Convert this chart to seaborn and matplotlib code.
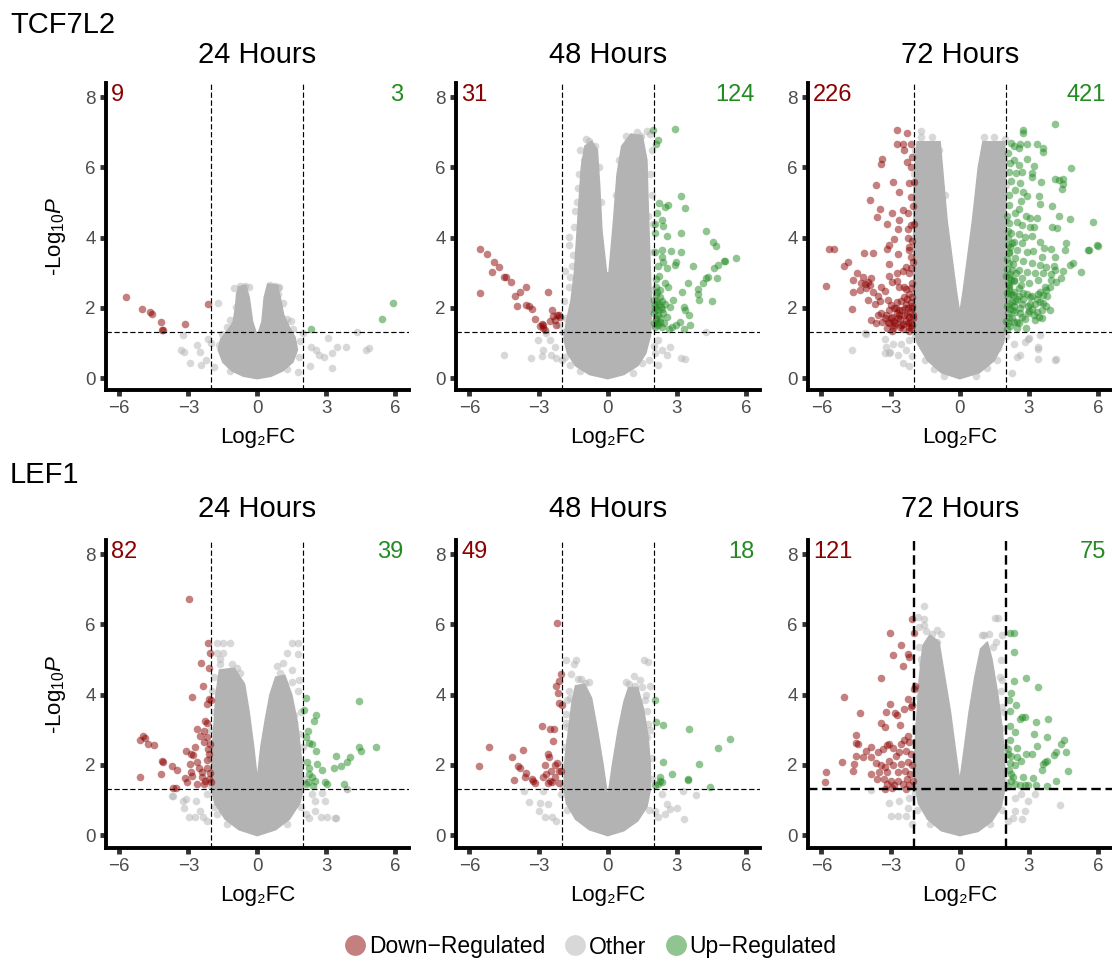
import matplotlib
matplotlib.use('Agg')
import matplotlib.pyplot as plt
import seaborn as sns
import pandas as pd
from matplotlib.lines import Line2D
from matplotlib.colors import to_rgba

sns.set_style('white')
plt.rcParams['font.family'] = ['Liberation Sans', 'DejaVu Sans']
plt.rcParams['mathtext.fontset'] = 'custom'
plt.rcParams['mathtext.rm'] = 'Liberation Sans'
plt.rcParams['mathtext.it'] = 'Liberation Sans:italic'
plt.rcParams['text.color'] = 'black'
plt.rcParams['axes.labelcolor'] = 'black'

# ---------------- data ----------------
genes = ['TCF7L2', 'LEF1']
times = ['24 Hours', '48 Hours', '72 Hours']
down_counts = [[9, 31, 226], [82, 49, 121]]
up_counts = [[3, 124, 421], [39, 18, 75]]
fc_cut = 2.0
p_cut = 1.3
x_ticks = [-6, -3, 0, 3, 6]
y_ticks = [0, 2, 4, 6, 8]
legend_labels = ['Down\u2212Regulated', 'Other', 'Up\u2212Regulated']

# TCF7L2 24h
T24_down = [(-5.70, 2.32), (-5.02, 1.97), (-4.65, 1.89), (-4.56, 1.81), (-4.19, 1.59),
            (-4.16, 1.37), (-4.10, 1.37), (-3.15, 1.54), (-2.15, 2.11)]
T24_up = [(2.35, 1.39), (5.42, 1.67), (5.92, 2.13)]
T24_other = [(-1.7, 2.13), (-1.19, 1.65), (-0.94, 2.03), (-3.23, 1.22), (-3.3, 0.8), (-3.2, 0.75),
             (-2.92, 0.42), (-2.48, 0.75), (-2.23, 0.51), (-2.45, 0.37), (-2.0, 0.99), (-2.15, 1.1),
             (-2.6, 0.95), (-1.87, 0.32), (1.99, 1.27), (2.35, 0.89), (2.57, 0.8), (2.67, 0.66),
             (3.06, 1.13), (3.27, 0.72), (3.27, 0.28), (3.48, 0.89), (3.84, 0.89), (2.3, 0.34),
             (2.9, 0.6), (1.75, 0.16), (1.56, 1.41), (1.3, 1.68), (1.13, 2.13), (0.9, 2.38),
             (4.35, 1.32), (4.71, 0.8), (4.85, 0.85), (-0.75, 2.62), (-0.55, 2.62), (-0.35, 2.6),
             (0.55, 2.65), (0.75, 2.62), (0.95, 2.6), (-1.3, 1.45), (1.45, 1.62), (-1.55, 1.25),
             (1.85, 1.05), (-1.2, 0.2), (1.3, 0.25), (-1.65, 0.95), (1.8, 0.6), (-1.0, 2.55),
             (0.9, 2.55)]
T24_core = [(0, -0.02), (-0.6, 0.05), (-1.1, 0.2), (-1.5, 0.45), (-1.7, 0.8), (-1.6, 1.1),
            (-1.3, 1.35), (-1.05, 1.6), (-0.95, 2.0), (-0.9, 2.4), (-0.8, 2.6), (-0.5, 2.65),
            (-0.35, 2.3), (-0.2, 1.6), (0.0, 1.2), (0.2, 1.6), (0.3, 2.3), (0.45, 2.68),
            (0.85, 2.65), (1.0, 2.3), (1.15, 1.8), (1.4, 1.45), (1.65, 1.15), (1.75, 0.8),
            (1.55, 0.45), (1.1, 0.2), (0.6, 0.05)]

# TCF7L2 48h
T48_down = [(-5.54, 3.67), (-5.22, 3.52), (-4.94, 3.30), (-4.71, 3.17), (-5.04, 3.01), (-4.49, 2.89),
            (-4.43, 2.87), (-4.21, 2.74), (-5.52, 2.41), (-4.01, 2.35), (-3.82, 2.44), (-3.56, 2.58),
            (-3.95, 2.05), (-3.53, 2.08), (-3.42, 2.05), (-3.29, 1.96), (-2.60, 2.46), (-3.15, 1.67),
            (-2.85, 1.54), (-2.79, 1.43), (-2.82, 1.50), (-2.40, 1.94), (-2.38, 1.77), (-2.20, 1.79),
            (-2.13, 1.79), (-2.25, 1.51), (-2.93, 1.47), (-2.72, 1.38), (-2.27, 1.66), (-2.52, 1.62),
            (-2.08, 1.75)]
T48_up = [(1.97, 7.07), (2.93, 7.08), (2.19, 6.78), (2.07, 6.66), (2.22, 4.99), (2.62, 4.93),
          (2.48, 4.88), (3.16, 5.17), (3.36, 4.85), (2.33, 4.50), (2.05, 4.39), (2.41, 4.32),
          (2.05, 4.12), (2.55, 4.05), (3.16, 4.12), (4.25, 4.19), (4.55, 3.87), (4.70, 3.76),
          (5.55, 3.42), (5.03, 3.34), (4.62, 3.12), (4.77, 3.22), (4.73, 2.84), (4.27, 2.84),
          (4.33, 2.89), (4.12, 2.70), (3.93, 2.53), (3.90, 2.39), (3.94, 2.21), (4.52, 2.20),
          (3.68, 3.18), (3.47, 2.70), (3.21, 2.46), (3.16, 3.58), (2.73, 3.61), (2.33, 3.65),
          (2.41, 3.30), (2.33, 3.44), (2.19, 3.20), (2.55, 3.14), (2.90, 3.22), (2.97, 3.30),
          (2.07, 2.81), (2.48, 2.70), (2.62, 2.58), (2.28, 2.50), (2.83, 2.23), (2.70, 2.03),
          (3.31, 2.03), (3.37, 1.93), (3.51, 1.79), (3.56, 1.50), (3.31, 1.41), (2.97, 1.50),
          (2.79, 1.46), (2.65, 1.41), (3.13, 1.60), (2.02, 2.22), (2.12, 2.17), (2.22, 2.12),
          (2.04, 2.03), (2.19, 1.93), (2.33, 1.98), (2.02, 1.84), (2.16, 1.80), (2.26, 1.70),
          (2.07, 1.65), (2.02, 1.56), (2.19, 1.51), (2.40, 1.84), (2.48, 2.12), (2.26, 2.31),
          (2.07, 2.36), (2.12, 1.56), (2.33, 1.46), (2.55, 1.75), (2.45, 1.56), (2.04, 1.93),
          (2.30, 2.03), (5.09, 3.34), (2.03, 1.45), (2.10, 1.70), (2.05, 2.10), (2.15, 2.45),
          (2.25, 1.60), (2.35, 2.20), (2.10, 2.60), (2.20, 2.90), (2.03, 3.60), (2.15, 4.70)]
T48_other = [(-1.67, 4.03), (-1.4, 4.75), (-1.62, 2.87), (-1.84, 3.06), (-3.03, 1.08), (-2.82, 0.8),
             (-3.35, 0.56), (-4.51, 0.66), (-2.87, 0.62), (-2.5, 1.08), (-2.3, 0.89), (-2.23, 0.56),
             (-2.44, 0.66), (-2.66, 1.27), (-2.0, 0.51), (2.19, 1.08), (2.33, 0.8), (2.55, 0.66),
             (3.18, 0.56), (3.37, 0.54), (2.69, 0.89), (2.19, 0.37), (4.26, 1.32), (2.05, 0.7),
             (1.48, 0.42), (-1.62, 0.37), (1.69, 7.02), (1.44, 6.88), (1.06, 6.83), (-0.8, 6.74),
             (1.9, 6.5), (-0.55, 6.6), (-1.05, 6.2), (-1.25, 5.8), (1.85, 5.8), (1.9, 5.2),
             (1.75, 4.6), (1.95, 3.6), (-1.5, 3.5), (-1.9, 2.2), (-1.8, 1.7), (-1.95, 1.3),
             (-2.1, 1.5), (-1.7, 2.6), (-1.55, 3.2), (-1.45, 4.3), (-1.35, 5.0), (-1.3, 5.4),
             (-1.2, 6.5), (-0.95, 6.8), (-0.4, 6.0), (-0.3, 5.0), (0.35, 5.2), (0.5, 6.2),
             (0.8, 6.9), (1.25, 7.0), (1.85, 6.95), (1.95, 4.4), (1.95, 2.5), (1.98, 1.5),
             (2.0, 0.9), (1.8, 0.5), (-1.85, 0.6), (-1.2, 0.2), (1.1, 0.15), (-1.7, 3.8),
             (-1.3, 3.0), (1.6, 3.3)]
T48_core = [(0, -0.02), (-0.8, 0.1), (-1.4, 0.35), (-1.75, 0.7), (-1.9, 1.1), (-1.8, 1.6),
            (-1.6, 2.2), (-1.45, 3.0), (-1.35, 4.0), (-1.25, 5.0), (-1.15, 6.0), (-1.0, 6.6),
            (-0.7, 6.75), (-0.45, 6.5), (-0.35, 5.5), (-0.25, 4.2), (-0.05, 3.0), (0.05, 3.0),
            (0.25, 4.5), (0.4, 5.8), (0.6, 6.6), (1.0, 6.95), (1.5, 6.9), (1.7, 6.2), (1.75, 5.0),
            (1.8, 4.0), (1.85, 3.0), (1.9, 2.0), (1.85, 1.2), (1.65, 0.7), (1.3, 0.35), (0.7, 0.1)]

# TCF7L2 72h
T72_down = [(-2.73, 7.05), (-2.29, 6.97), (-2.73, 6.67), (-2.44, 6.67), (-2.12, 6.67), (-2.40, 6.48),
            (-3.36, 6.23), (-3.40, 6.09), (-2.30, 6.16), (-2.12, 6.00), (-1.98, 5.59), (-2.19, 5.56),
            (-2.90, 5.59), (-3.62, 5.50), (-2.65, 5.30), (-3.90, 5.07), (-2.12, 5.15), (-3.48, 4.82),
            (-2.48, 4.78), (-2.26, 4.71), (-2.93, 4.69), (-3.59, 4.58), (-3.16, 4.39), (-2.65, 4.50),
            (-2.12, 4.36), (-1.98, 4.39), (-2.69, 4.23), (-2.24, 4.23), (-2.87, 3.97), (-2.24, 3.99),
            (-3.08, 3.80), (-3.16, 3.66), (-2.19, 3.74), (-5.69, 3.66), (-5.45, 3.66), (-4.15, 3.57),
            (-3.76, 3.57), (-2.66, 3.53), (-2.21, 3.64), (-2.12, 3.45), (-3.08, 3.26), (-4.83, 3.31),
            (-5.02, 3.19), (-2.33, 3.15), (-2.12, 3.12), (-2.21, 3.00), (-2.70, 3.00), (-2.48, 3.05),
            (-4.44, 2.99), (-4.19, 2.87), (-3.98, 2.74), (-4.12, 2.68), (-3.91, 2.65), (-5.79, 2.63),
            (-4.62, 2.78), (-3.05, 2.91), (-2.93, 2.74), (-2.73, 2.77), (-2.05, 2.72), (-2.33, 2.54),
            (-2.62, 2.59), (-3.41, 2.59), (-3.76, 2.46), (-3.55, 2.35), (-3.22, 2.48), (-4.62, 2.46),
            (-2.19, 2.40), (-2.40, 2.31), (-3.98, 2.22), (-3.68, 2.10), (-3.12, 2.22), (-2.73, 2.17),
            (-2.12, 2.17), (-2.83, 1.99), (-3.05, 1.94), (-2.62, 1.94), (-2.26, 1.99), (-2.05, 1.99),
            (-3.19, 1.80), (-2.93, 1.75), (-2.69, 1.70), (-2.40, 1.80), (-2.19, 1.75), (-2.02, 1.70),
            (-4.69, 1.96), (-3.86, 1.64), (-3.55, 1.80), (-3.62, 1.58), (-3.36, 1.61), (-3.05, 1.56),
            (-2.79, 1.56), (-2.55, 1.51), (-2.26, 1.56), (-2.12, 1.42), (-2.90, 1.42), (-3.16, 1.42),
            (-2.48, 1.39), (-2.73, 1.86), (-2.97, 2.08), (-2.33, 2.10), (-3.48, 2.20), (-4.33, 2.50),
            (-2.05, 1.50), (-2.15, 1.88), (-2.35, 1.62), (-2.58, 1.68), (-2.85, 1.62), (-2.05, 2.30),
            (-2.02, 1.80), (-2.08, 2.05), (-2.15, 1.60), (-2.22, 1.45), (-2.30, 1.80), (-2.38, 2.00),
            (-2.45, 1.55), (-2.50, 1.95), (-2.60, 1.45), (-2.65, 1.80), (-2.10, 2.55), (-2.02, 3.30),
            (-2.08, 3.90), (-2.30, 2.25), (-2.42, 2.60), (-2.75, 2.00), (-2.85, 1.50), (-3.00, 1.70),
            (-3.10, 1.60), (-3.25, 1.70), (-3.40, 1.85), (-2.95, 1.35), (-2.55, 2.20), (-2.20, 1.35),
            (-2.02, 4.90), (-2.05, 6.30), (-4.30, 2.70), (-4.05, 2.55), (-3.85, 2.85)]
T72_up = [(4.12, 7.24), (2.76, 7.05), (2.76, 6.99), (2.23, 6.68), (2.59, 6.66), (2.92, 6.66),
          (3.33, 6.66), (3.59, 6.54), (3.63, 6.44), (2.55, 6.54), (2.33, 6.21), (2.90, 6.23),
          (2.19, 6.11), (2.55, 6.07), (3.23, 6.04), (4.81, 5.97), (2.12, 5.87), (2.45, 5.84),
          (2.69, 5.87), (3.12, 5.84), (3.15, 5.73), (3.51, 5.59), (4.12, 5.66), (4.29, 5.64),
          (4.48, 5.67), (4.48, 5.53), (4.43, 5.38), (2.23, 5.61), (2.62, 5.56), (2.40, 5.35),
          (2.76, 5.30), (2.90, 5.18), (3.43, 5.19), (2.66, 5.05), (2.12, 4.92), (2.55, 4.80),
          (3.47, 4.96), (4.02, 4.90), (2.88, 4.60), (3.05, 4.55), (3.33, 4.57), (4.29, 4.62),
          (4.76, 4.53), (5.76, 4.44), (2.12, 4.41), (2.48, 4.45), (2.69, 4.36), (3.05, 4.31),
          (3.23, 4.31), (4.02, 4.29), (4.22, 4.27), (2.23, 4.12), (2.55, 4.10), (2.83, 4.03),
          (3.15, 4.04), (2.09, 3.98), (2.33, 3.88), (2.69, 3.84), (3.47, 3.88), (3.66, 3.69),
          (3.97, 3.67), (4.62, 3.85), (5.95, 3.79), (5.58, 3.65), (2.19, 3.74), (2.48, 3.64),
          (2.90, 3.60), (3.19, 3.62), (3.58, 3.45), (4.12, 3.45), (4.55, 3.64), (2.12, 3.55),
          (2.40, 3.41), (2.76, 3.32), (3.12, 3.27), (3.48, 3.22), (3.76, 3.17), (4.76, 3.22),
          (4.90, 3.28), (5.26, 3.01), (4.12, 3.07), (3.97, 2.96), (4.48, 3.05), (4.38, 2.84),
          (4.19, 2.74), (2.12, 3.27), (2.26, 3.07), (2.55, 3.09), (2.90, 3.03), (3.26, 2.98),
          (3.62, 3.00), (2.12, 2.89), (2.37, 2.79), (2.69, 2.84), (3.00, 2.70), (3.40, 2.79),
          (3.90, 2.60), (3.76, 2.51), (2.12, 2.60), (2.33, 2.46), (2.55, 2.55), (2.76, 2.43),
          (3.62, 2.36), (3.80, 2.33), (3.48, 2.17), (3.26, 2.11), (3.12, 1.96), (3.33, 1.89),
          (3.58, 1.94), (3.90, 1.94), (2.97, 1.84), (2.83, 1.67), (3.26, 1.65), (3.55, 1.70),
          (3.76, 2.04), (2.09, 2.31), (2.26, 2.17), (2.48, 2.26), (2.69, 2.12), (2.19, 1.98),
          (2.40, 1.89), (2.12, 1.75), (2.33, 1.61), (2.57, 1.56), (2.19, 1.47), (2.48, 1.42),
          (2.69, 1.75), (2.86, 1.42), (2.09, 1.56), (2.29, 2.36), (2.76, 2.24), (3.05, 2.31),
          (2.09, 2.70), (5.62, 3.65), (5.98, 3.77), (2.05, 2.05), (2.05, 1.40), (2.15, 2.50),
          (2.20, 2.80), (2.35, 2.05), (2.60, 1.85), (2.95, 2.05), (3.40, 2.40), (2.05, 3.10),
          (2.02, 1.62), (2.08, 1.85), (2.14, 2.12), (2.05, 2.42), (2.12, 2.65), (2.18, 2.95),
          (2.05, 3.40), (2.28, 1.70), (2.30, 1.95), (2.40, 2.20), (2.22, 2.40), (2.35, 2.75),
          (2.45, 3.00), (2.50, 1.60), (2.55, 2.35), (2.62, 2.00), (2.65, 2.65), (2.30, 3.25),
          (2.15, 3.60), (2.25, 3.85), (2.08, 4.20), (2.40, 4.70), (3.05, 2.10), (3.20, 1.80),
          (3.35, 2.25), (3.50, 2.45), (3.15, 2.35), (3.70, 2.60), (3.60, 2.15), (3.45, 1.75),
          (3.00, 1.90), (2.90, 2.40), (3.95, 2.80), (4.10, 3.20), (2.02, 2.90), (2.10, 3.80),
          (2.05, 4.60), (2.15, 5.20), (2.08, 6.40), (2.35, 6.60)]
T72_other = [(-1.67, 7.02), (-4.08, 1.26), (-4.69, 0.80), (-3.26, 1.12), (-3.19, 0.89), (-3.05, 0.70),
             (-2.69, 0.66), (-2.9, 0.98), (-2.55, 0.98), (-2.33, 0.80), (-2.19, 1.08), (-2.05, 0.62),
             (-2.48, 0.43), (-2.19, 0.34), (-4.11, 1.27), (-3.25, 0.70), (-3.04, 0.75), (2.97, 1.10),
             (3.48, 1.22), (3.41, 0.82), (3.38, 0.53), (4.12, 0.50), (2.33, 0.98), (2.62, 0.65),
             (2.26, 0.13), (2.83, 1.04), (2.48, 0.61), (3.40, 0.89), (4.16, 0.54), (2.98, 1.13),
             (-1.95, 6.5), (-1.9, 5.5), (-1.85, 4.5), (-1.8, 3.4), (-1.75, 2.5), (1.9, 6.2),
             (1.85, 5.0), (1.8, 4.0), (1.9, 3.0), (1.75, 2.2), (-1.6, 0.9), (1.65, 0.85),
             (-1.1, 0.25), (1.2, 0.3), (-1.98, 2.0), (-2.02, 4.0), (-1.98, 5.8), (-1.7, 6.85),
             (-1.2, 6.85), (-0.9, 6.5), (-0.65, 5.2), (1.05, 6.85), (1.5, 6.85), (1.95, 6.8),
             (2.0, 5.5), (2.0, 4.5), (2.0, 2.5), (2.0, 1.2), (-1.95, 1.2), (-1.5, 0.5),
             (1.6, 0.5), (-0.7, 0.05), (0.7, 0.05)]
T72_core = [(0, -0.02), (-0.8, 0.15), (-1.4, 0.5), (-1.85, 1.0), (-2.0, 1.5), (-2.0, 3.0),
            (-2.0, 5.0), (-1.95, 6.0), (-1.85, 6.73), (-0.85, 6.73), (-0.75, 6.0), (-0.55, 4.5),
            (-0.35, 3.5), (-0.15, 2.5), (0.0, 1.85), (0.15, 2.5), (0.35, 3.5), (0.55, 4.5),
            (0.8, 6.0), (1.0, 6.73), (1.95, 6.73), (2.0, 6.0), (2.0, 3.0), (2.0, 1.5),
            (1.9, 1.0), (1.5, 0.5), (0.85, 0.15)]

# LEF1 24h
L24_down = [(-2.97, 6.73), (-2.16, 5.48), (-2.07, 5.18), (-2.45, 4.91), (-2.12, 4.75), (-2.37, 4.23),
            (-2.86, 3.92), (-2.12, 3.87), (-2.02, 3.83), (-2.19, 3.73), (-2.26, 3.26), (-2.19, 3.18),
            (-2.62, 3.02), (-2.30, 2.97), (-2.48, 2.83), (-2.19, 2.78), (-2.30, 2.64), (-2.07, 2.59),
            (-2.73, 2.51), (-2.14, 2.45), (-3.12, 2.38), (-2.90, 2.30), (-2.12, 2.30), (-2.80, 2.28),
            (-4.98, 2.83), (-5.12, 2.70), (-4.76, 2.59), (-4.50, 2.57), (-4.87, 2.76), (-4.16, 2.11),
            (-4.08, 2.08), (-3.72, 1.97), (-2.93, 2.02), (-2.60, 2.08), (-2.17, 2.13), (-3.48, 1.85),
            (-4.19, 1.73), (-5.08, 1.64), (-3.16, 1.62), (-2.90, 1.78), (-2.83, 1.68), (-2.55, 1.92),
            (-2.19, 1.92), (-3.05, 1.50), (-2.41, 1.64), (-2.26, 1.54), (-2.12, 1.59), (-2.02, 1.50),
            (-2.33, 1.45), (-3.66, 1.35), (-3.55, 1.33), (-2.62, 1.45), (-2.05, 1.76), (-2.41, 1.78)]
L24_up = [(2.10, 3.90), (2.03, 3.56), (2.56, 3.42), (2.46, 3.26), (4.42, 3.81), (2.22, 2.95),
          (2.25, 2.63), (2.36, 2.59), (2.56, 2.38), (2.18, 2.07), (2.60, 2.02), (2.82, 1.85),
          (2.27, 1.75), (2.39, 1.64), (2.22, 1.50), (2.42, 1.40), (2.96, 1.51), (3.03, 1.45),
          (3.42, 2.26), (3.32, 1.90), (3.65, 1.97), (3.89, 2.09), (4.03, 2.21), (3.79, 1.45),
          (4.42, 2.51), (4.51, 2.38), (5.18, 2.52), (2.10, 1.45), (2.27, 1.92), (2.53, 1.54),
          (2.10, 2.78)]
L24_other = [(-1.76, 5.48), (-1.47, 5.48), (-1.19, 5.48), (-1.76, 5.18), (-1.47, 5.18), (-1.62, 4.88),
             (-1.12, 4.88), (-0.76, 4.61), (1.53, 5.48), (1.75, 5.48), (1.79, 5.16), (1.31, 5.18),
             (1.10, 4.90), (0.84, 4.80), (1.82, 4.40), (1.53, 4.35), (1.75, 4.11), (1.39, 3.87),
             (1.60, 3.43), (1.82, 2.88), (1.60, 2.59), (1.31, 2.30), (-3.69, 1.11), (-3.12, 1.02),
             (-2.65, 0.97), (-2.98, 0.51), (-2.36, 0.51), (-2.69, 0.51), (-3.19, 0.78), (-2.48, 0.68),
             (-2.19, 1.16), (-2.19, 0.40), (-1.76, 0.59), (2.39, 1.16), (2.82, 1.21), (2.96, 0.97),
             (2.53, 0.68), (2.79, 0.51), (3.40, 0.47), (2.25, 0.49), (2.53, 0.97), (3.89, 1.30),
             (2.10, 0.59), (3.42, 0.47), (3.92, 1.31), (3.04, 0.52), (-3.66, 1.11), (-3.23, 0.98),
             (-1.9, 3.5), (-1.85, 2.6), (-1.95, 4.1), (-2.05, 3.0), (-2.05, 2.2), (-2.02, 1.4),
             (-1.9, 4.5), (-1.6, 5.0), (-0.9, 4.75), (1.5, 4.7), (1.9, 3.5), (2.0, 2.5),
             (2.02, 1.6), (1.9, 0.8), (-1.9, 0.8), (-1.3, 0.3), (1.3, 0.3), (1.0, 4.6), (1.85, 2.1)]
L24_core = [(0, -0.02), (-0.8, 0.15), (-1.4, 0.45), (-1.85, 0.9), (-2.0, 1.3), (-2.0, 2.0),
            (-1.9, 3.0), (-1.8, 4.0), (-1.65, 4.7), (-1.0, 4.75), (-0.55, 4.3), (-0.35, 3.5),
            (-0.15, 2.5), (0.0, 1.6), (0.15, 2.5), (0.35, 3.3), (0.55, 4.0), (0.8, 4.5),
            (1.2, 4.55), (1.5, 4.0), (1.75, 3.2), (1.95, 2.0), (2.0, 1.3), (1.85, 0.9),
            (1.4, 0.45), (0.8, 0.15)]

# LEF1 48h
L48_down = [(-2.18, 6.04), (-2.01, 4.59), (-2.11, 4.38), (-2.25, 4.24), (-2.14, 4.05), (-2.11, 3.76),
            (-1.99, 3.71), (-2.85, 3.09), (-2.49, 3.01), (-2.32, 3.02), (-2.39, 2.67), (-5.15, 2.52),
            (-5.59, 1.97), (-3.68, 2.42), (-4.16, 2.21), (-2.58, 2.31), (-2.53, 2.23), (-3.89, 1.97),
            (-3.79, 1.90), (-2.72, 2.00), (-2.28, 2.00), (-2.18, 2.05), (-3.53, 1.76), (-3.60, 1.64),
            (-4.06, 1.57), (-2.45, 1.83), (-2.12, 1.83), (-2.03, 1.81), (-3.24, 1.54), (-3.14, 1.47),
            (-2.52, 1.54), (-2.40, 1.50), (-2.59, 1.47), (-2.30, 1.64), (-2.11, 1.47), (-2.67, 1.73),
            (-3.30, 1.59), (-2.80, 1.64)]
L48_up = [(2.05, 3.83), (2.08, 3.21), (2.40, 3.13), (3.51, 3.02), (5.28, 2.73), (4.76, 2.47),
          (2.40, 2.09), (3.94, 2.02), (2.79, 1.75), (2.28, 1.64), (2.33, 1.50), (3.46, 1.59),
          (3.49, 1.56), (2.05, 1.43), (2.19, 1.45), (4.45, 1.37), (2.26, 1.53)]
L48_other = [(-1.82, 4.99), (-1.39, 4.99), (-1.46, 4.86), (-1.60, 4.59), (-1.17, 4.45), (-0.99, 4.32),
             (1.55, 4.99), (1.76, 4.92), (1.14, 4.54), (0.90, 4.29), (1.83, 4.23), (1.17, 4.24),
             (1.47, 4.21), (1.62, 3.83), (1.69, 3.54), (1.76, 3.16), (1.69, 2.78), (1.62, 2.40),
             (-1.67, 4.11), (-1.75, 3.83), (-1.82, 3.45), (-1.75, 3.07), (-1.67, 2.30), (-1.70, 2.69),
             (-3.63, 1.24), (-3.42, 0.95), (-2.82, 1.26), (-2.93, 0.92), (-2.70, 0.51), (-2.42, 0.51),
             (-2.96, 0.69), (-2.25, 0.40), (-2.60, 0.88), (-2.03, 1.16), (2.33, 1.16), (2.55, 0.88),
             (2.69, 0.73), (2.98, 0.78), (3.26, 1.26), (3.83, 1.14), (3.30, 0.45), (2.19, 0.50),
             (2.05, 0.69), (2.48, 0.59), (-1.95, 1.4), (-1.95, 2.0), (-1.85, 2.5), (-1.8, 3.2),
             (-1.65, 3.9), (1.9, 1.6), (1.9, 2.2), (1.85, 3.0), (1.65, 4.0), (1.4, 4.4),
             (0.8, 4.35), (-0.8, 4.35), (-1.3, 4.45), (1.8, 0.7), (-1.75, 0.7)]
L48_core = [(0, -0.02), (-0.8, 0.15), (-1.4, 0.45), (-1.8, 0.9), (-1.9, 1.4), (-1.85, 2.2),
            (-1.7, 3.0), (-1.55, 3.8), (-1.4, 4.25), (-1.0, 4.3), (-0.7, 3.9), (-0.45, 3.0),
            (-0.2, 2.0), (0.0, 1.07), (0.2, 2.0), (0.45, 3.0), (0.7, 3.8), (0.9, 4.2),
            (1.3, 4.2), (1.55, 3.6), (1.75, 2.8), (1.85, 2.0), (1.85, 1.3), (1.7, 0.8),
            (1.3, 0.4), (0.7, 0.12)]

# LEF1 72h
L72_down = [(-2.09, 6.16), (-3.02, 5.75), (-2.00, 5.75), (-2.55, 5.40), (-2.88, 5.13), (-2.26, 5.14),
            (-2.19, 5.08), (-2.45, 4.80), (-3.43, 4.47), (-1.96, 4.23), (-2.00, 4.16), (-5.01, 3.94),
            (-2.26, 3.88), (-4.31, 3.47), (-3.03, 3.73), (-2.06, 3.71), (-2.12, 3.65), (-2.41, 3.59),
            (-2.73, 3.42), (-2.80, 3.47), (-3.19, 3.50), (-2.59, 3.14), (-3.22, 3.07), (-3.43, 3.20),
            (-4.48, 2.85), (-4.41, 2.59), (-4.48, 2.61), (-2.26, 2.83), (-2.19, 2.64), (-2.41, 2.70),
            (-2.55, 2.59), (-3.05, 2.59), (-3.16, 2.55), (-3.83, 2.51), (-4.08, 2.38), (-4.52, 2.26),
            (-5.09, 2.09), (-4.57, 2.02), (-4.64, 1.83), (-5.79, 1.80), (-5.84, 1.52), (-3.55, 2.37),
            (-3.33, 2.44), (-2.90, 2.49), (-2.62, 2.35), (-2.33, 2.40), (-2.12, 2.30), (-2.76, 2.26),
            (-3.05, 2.12), (-3.64, 2.04), (-3.43, 2.00), (-3.25, 1.93), (-2.90, 1.98), (-2.55, 2.02),
            (-2.26, 2.07), (-2.05, 1.98), (-3.86, 1.75), (-3.50, 1.78), (-3.15, 1.78), (-2.69, 1.78),
            (-2.36, 1.83), (-2.15, 1.73), (-3.58, 1.59), (-3.29, 1.59), (-3.00, 1.54), (-2.66, 1.55),
            (-2.30, 1.59), (-2.02, 1.54), (-3.15, 1.45), (-2.83, 1.43), (-2.45, 1.45), (-2.19, 1.43),
            (-2.93, 1.35), (-3.22, 1.31), (-2.33, 1.31), (-4.19, 2.21), (-3.83, 2.21)]
L72_up = [(2.17, 5.75), (2.36, 5.75), (2.36, 5.21), (2.36, 4.38), (2.86, 4.47), (3.39, 4.21),
          (2.21, 4.04), (2.14, 3.85), (2.43, 3.69), (2.17, 3.54), (2.70, 3.35), (2.81, 3.35),
          (2.60, 3.31), (3.82, 3.31), (3.29, 3.21), (2.17, 3.09), (2.39, 2.92), (3.79, 2.80),
          (3.20, 2.87), (2.17, 2.70), (4.53, 2.70), (4.39, 2.59), (3.36, 2.54), (2.46, 2.49),
          (2.10, 2.44), (2.85, 2.32), (3.13, 2.30), (4.17, 2.35), (4.10, 2.28), (4.62, 2.35),
          (3.79, 2.11), (3.60, 2.02), (3.68, 2.07), (2.10, 2.30), (2.24, 2.26), (2.46, 2.21),
          (2.66, 2.11), (2.17, 2.04), (2.39, 1.98), (2.14, 1.85), (4.69, 1.81), (3.58, 1.85),
          (2.24, 1.73), (2.32, 1.64), (2.75, 1.64), (3.18, 1.62), (2.21, 1.54), (2.82, 1.43),
          (2.96, 1.43), (3.32, 1.43), (3.79, 1.40), (4.17, 1.54), (2.60, 1.43), (2.10, 1.40),
          (2.39, 1.45)]
L72_other = [(-1.57, 6.51), (-1.83, 6.21), (-1.55, 6.16), (-1.55, 5.97), (-1.76, 5.92), (-1.19, 5.73),
             (-0.83, 5.73), (-0.97, 5.50), (1.53, 6.19), (1.67, 6.19), (1.25, 5.73), (0.96, 5.69),
             (1.82, 5.69), (1.46, 5.35), (1.79, 4.97), (1.82, 4.40), (1.79, 4.11), (1.36, 4.40),
             (1.82, 3.64), (1.79, 3.06), (-1.76, 5.35), (-1.62, 4.88), (-1.62, 4.40), (-1.76, 3.92),
             (-1.83, 3.16), (-1.76, 2.78), (-3.05, 0.92), (-2.98, 0.54), (-2.69, 0.54), (-2.33, 0.54),
             (-3.83, 1.28), (-2.26, 0.78), (-2.62, 0.97), (-2.19, 1.06), (-2.05, 0.32), (2.39, 1.06),
             (2.66, 1.16), (2.96, 0.97), (2.39, 0.68), (2.82, 0.68), (2.32, 0.49), (2.68, 0.45),
             (4.35, 0.86), (2.10, 0.40), (3.26, 1.16), (-1.95, 1.2), (-2.0, 2.0), (-1.95, 3.0),
             (-1.85, 4.2), (-1.7, 5.0), (-1.45, 5.8), (-1.0, 5.85), (1.05, 5.7), (1.55, 5.5),
             (1.75, 4.5), (1.9, 3.5), (2.0, 2.5), (2.0, 1.5), (1.85, 0.7), (-1.85, 0.7),
             (-1.3, 0.3), (1.3, 0.3)]
L72_core = [(0, -0.02), (-0.8, 0.12), (-1.4, 0.45), (-1.8, 0.9), (-1.95, 1.5), (-1.95, 2.5),
            (-1.85, 3.5), (-1.75, 4.5), (-1.6, 5.4), (-1.3, 5.7), (-0.9, 5.5), (-0.65, 4.5),
            (-0.4, 3.5), (-0.2, 2.5), (0.0, 1.54), (0.2, 2.5), (0.4, 3.5), (0.65, 4.5),
            (0.9, 5.3), (1.2, 5.5), (1.4, 5.0), (1.65, 4.0), (1.85, 3.0), (1.95, 2.0),
            (1.95, 1.3), (1.8, 0.8), (1.4, 0.4), (0.8, 0.1)]

panel_data = [[(T24_down, T24_up, T24_other, T24_core),
               (T48_down, T48_up, T48_other, T48_core),
               (T72_down, T72_up, T72_other, T72_core)],
              [(L24_down, L24_up, L24_other, L24_core),
               (L48_down, L48_up, L48_other, L48_core),
               (L72_down, L72_up, L72_other, L72_core)]]

# ---------------- style ----------------
DOWN_C = '#8B0000'
UP_C = '#228B22'
OTHER_C = '#B3B3B3'
PT_SIZE = 30

W, H = 1112, 966
fig = plt.figure(figsize=(W / 100, H / 100), dpi=100)
col_left = [106, 456, 808]
col_width = [303, 304, 304]
row_top = [83, 540]
row_bottom = [390, 848]
row_ylim = [(-0.34, 8.4), (-0.37, 8.4)]
row_pad = [14.5, 16.5]
row_label_base = [33, 483]


def to_df(pairs):
    return pd.DataFrame(pairs, columns=['x', 'y'])


for r in range(2):
    fig.text(10 / W, 1 - row_label_base[r] / H, genes[r], fontsize=21, ha='left', va='baseline')
    for c in range(3):
        down, up, other, core = panel_data[r][c]
        ax = fig.add_axes([col_left[c] / W, 1 - row_bottom[r] / H,
                           col_width[c] / W, (row_bottom[r] - row_top[r]) / H])
        core_df = to_df(core)
        ax.fill(core_df['x'], core_df['y'], facecolor=OTHER_C, edgecolor=OTHER_C,
                linewidth=1.0, zorder=1)
        sns.scatterplot(data=to_df(other), x='x', y='y', color=OTHER_C, alpha=0.5,
                        s=PT_SIZE, linewidth=0, ax=ax, zorder=2, legend=False)
        sns.scatterplot(data=to_df(down), x='x', y='y', color=DOWN_C, alpha=0.5,
                        s=PT_SIZE, linewidth=0, ax=ax, zorder=3, legend=False)
        sns.scatterplot(data=to_df(up), x='x', y='y', color=UP_C, alpha=0.5,
                        s=PT_SIZE, linewidth=0, ax=ax, zorder=3, legend=False)

        if r == 1 and c == 2:
            lw, dsh = 1.7, (4, 2)
        else:
            lw, dsh = 0.85, (4.5, 2.2)
        ax.axvline(-fc_cut, color='black', lw=lw, dashes=dsh, zorder=5)
        ax.axvline(fc_cut, color='black', lw=lw, dashes=dsh, zorder=5)
        ax.axhline(p_cut, color='black', lw=lw, dashes=dsh, zorder=5)

        ax.set_xlim(-6.58, 6.6)
        ax.set_ylim(*row_ylim[r])
        ax.set_xticks(x_ticks)
        ax.set_yticks(y_ticks)
        ax.tick_params(axis='both', which='major', bottom=True, left=True, length=4,
                       width=3.5, color='#333333', labelcolor='#4D4D4D', labelsize=13.5,
                       pad=3.5, direction='out')
        for s in ['top', 'right']:
            ax.spines[s].set_visible(False)
        for s in ['left', 'bottom']:
            ax.spines[s].set_linewidth(2.8)
            ax.spines[s].set_color('black')

        ax.set_title(times[c], fontsize=21, pad=row_pad[r], color='black')
        ax.set_xlabel('Log\u2082FC', fontsize=16, labelpad=7)
        if c == 0:
            ax.set_ylabel(r'-Log$_{10}$$\mathit{P}$', fontsize=16, labelpad=12)
        else:
            ax.set_ylabel('')

        ax.text(-6.35, 8.05, str(down_counts[r][c]), color=DOWN_C, fontsize=17,
                ha='left', va='center', zorder=6)
        ax.text(6.35, 8.05, str(up_counts[r][c]), color=UP_C, fontsize=17,
                ha='right', va='center', zorder=6)

handles = [Line2D([], [], marker='o', ls='', markersize=15, markeredgewidth=0,
                  markerfacecolor=to_rgba(col, 0.5))
           for col in [DOWN_C, OTHER_C, UP_C]]
fig.legend(handles, legend_labels, loc='center', bbox_to_anchor=(590 / W, 1 - 947 / H),
           ncol=3, frameon=False, fontsize=16.5, handletextpad=0.1, columnspacing=0.8,
           handlelength=1.0)

fig.savefig('out.png', dpi=100)
